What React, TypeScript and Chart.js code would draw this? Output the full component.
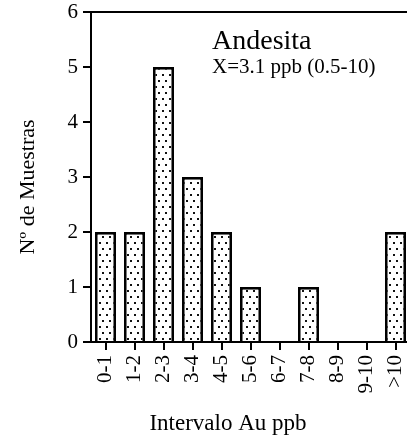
import React, { useEffect, useRef } from "react";
import { Chart, registerables } from "chart.js";

Chart.register(...registerables);

const categories = ["0-1", "1-2", "2-3", "3-4", "4-5", "5-6", "6-7", "7-8", "8-9", "9-10", ">10"];
const counts = [2, 2, 5, 3, 2, 1, 0, 1, 0, 0, 2];
const yMin = 0;
const yMax = 6;
const yStep = 1;
const titleText = "Andesita";
const subtitleText = "X=3.1 ppb (0.5-10)";
const xTitle = "Intervalo Au ppb";
const yTitle = "Nº de Muestras";

const FAMILY = '"Liberation Serif", "Times New Roman", serif';

function makePattern(ctx: CanvasRenderingContext2D): CanvasPattern | string {
  const c = document.createElement("canvas");
  c.width = 7;
  c.height = 12;
  const p = c.getContext("2d");
  if (!p) return "#fff";
  p.fillStyle = "#fff";
  p.fillRect(0, 0, 7, 12);
  p.fillStyle = "#111";
  p.fillRect(1, 2, 2, 2);
  p.fillRect(4, 8, 2, 2);
  return ctx.createPattern(c, "repeat") || "#fff";
}

const annotPlugin = {
  id: "annot",
  afterDraw(chart: any) {
    const { ctx, chartArea } = chart;
    ctx.save();
    ctx.strokeStyle = "#000";
    ctx.lineWidth = 2;
    ctx.beginPath();
    ctx.moveTo(chartArea.left - 1, chartArea.top);
    ctx.lineTo(chartArea.right, chartArea.top);
    ctx.stroke();
    ctx.fillStyle = "#000";
    ctx.textAlign = "left";
    ctx.textBaseline = "alphabetic";
    ctx.font = `28px ${FAMILY}`;
    ctx.fillText(titleText, chartArea.left + 121, chartArea.top + 37);
    ctx.font = `21px ${FAMILY}`;
    ctx.fillText(subtitleText, chartArea.left + 121, chartArea.top + 61);

    // axis titles
    ctx.textAlign = "center";
    ctx.font = `23px ${FAMILY}`;
    ctx.fillText(xTitle, chartArea.left + 137, chartArea.bottom + 88);
    ctx.save();
    ctx.translate(34, (chartArea.top + chartArea.bottom) / 2 + 10);
    ctx.rotate(-Math.PI / 2);
    ctx.font = `22px ${FAMILY}`;
    ctx.fillText(yTitle, 0, 0);
    ctx.restore();
    ctx.restore();
  },
};

export default function App() {
  const ref = useRef<HTMLCanvasElement | null>(null);

  useEffect(() => {
    const canvas = ref.current;
    if (!canvas) return;
    const ctx = canvas.getContext("2d");
    if (!ctx) return;
    const pattern = makePattern(ctx);
    const axisGrid = {
      display: true,
      drawOnChartArea: false,
      drawTicks: true,
      tickLength: 8,
      color: "#000",
      lineWidth: 2,
    };
    const chart = new Chart(ctx, {
      type: "bar",
      data: {
        labels: categories,
        datasets: [
          {
            data: counts,
            backgroundColor: pattern as any,
            borderColor: "#000",
            borderWidth: 2.8,
            barPercentage: 0.73,
            categoryPercentage: 1,
          },
        ],
      },
      options: {
        responsive: false,
        animation: false,
        layout: { padding: { top: 12, right: 2, left: 0, bottom: 0 } },
        plugins: {
          legend: { display: false },
          tooltip: { enabled: false },
        },
        scales: {
          x: {
            type: "category",
            offset: true,
            grid: { ...axisGrid, offset: false },
            border: { display: true, color: "#000", width: 2 },
            ticks: {
              color: "#000",
              font: { family: FAMILY, size: 21 },
              minRotation: 90,
              maxRotation: 90,
              padding: 5,
              autoSkip: false,
            },
            title: { display: false },
            afterFit: (s: any) => {
              s.height = 93;
              s.paddingLeft = 0;
              s.paddingRight = 0;
            },
          },
          y: {
            min: yMin,
            max: yMax,
            grid: axisGrid,
            border: { display: true, color: "#000", width: 2 },
            ticks: {
              stepSize: yStep,
              color: "#000",
              font: { family: FAMILY, size: 21 },
              padding: 5,
            },
            title: { display: false },
            afterFit: (s: any) => {
              s.width = 91;
              s.paddingTop = 0;
              s.paddingBottom = 0;
            },
          },
        },
      },
      plugins: [annotPlugin],
    });
    return () => chart.destroy();
  }, []);

  return (
    <div
      style={{
        position: "fixed",
        left: 0,
        top: 0,
        width: 407,
        height: 435,
        overflow: "hidden",
        background: "#fff",
      }}
    >
      <canvas ref={ref} width={412} height={435} style={{ display: "block", width: 412, height: 435 }} />
    </div>
  );
}
